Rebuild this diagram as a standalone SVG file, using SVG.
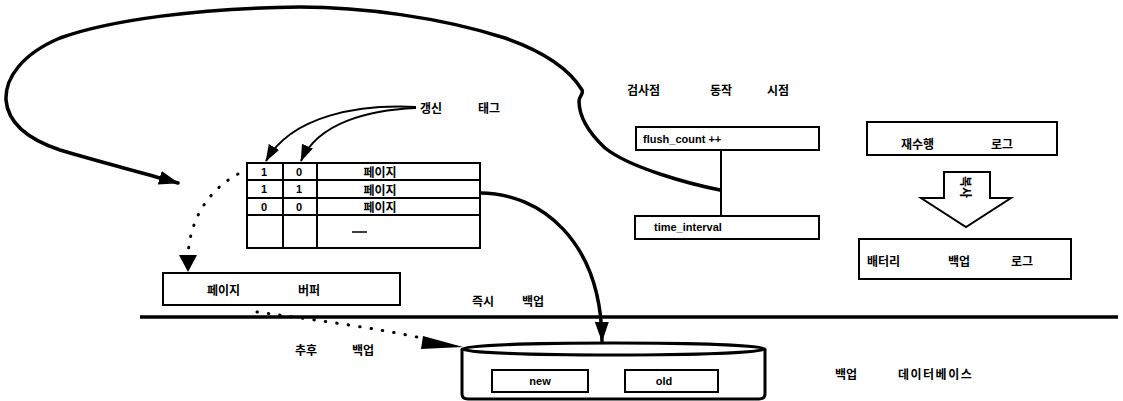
<svg xmlns="http://www.w3.org/2000/svg" width="1123" height="401" viewBox="0 0 1123 401">
<style>
.k{font-family:"Noto Sans CJK KR","Liberation Sans",sans-serif;font-weight:bold;font-size:12px;fill:#000;dominant-baseline:central}
.l{font-family:"Liberation Sans",Arial,sans-serif;font-weight:bold;font-size:11px;fill:#000;dominant-baseline:central}
.box{fill:#fff;stroke:#000;stroke-width:2}
.ln{fill:none;stroke:#000;stroke-width:2}
.thick{fill:none;stroke:#000;stroke-width:3.5;stroke-linecap:round}
.dot{fill:none;stroke:#000;stroke-width:3;stroke-linecap:round;stroke-dasharray:0.5 11}
</style>
<defs>
<marker id="ah" viewBox="0 0 20 14" refX="19" refY="7" markerWidth="20" markerHeight="14" orient="auto" markerUnits="userSpaceOnUse"><path d="M0,0 L20,7 L0,14 Z" fill="#000"/></marker>
<marker id="ahs" viewBox="0 0 20 14" refX="19" refY="7" markerWidth="17" markerHeight="13" orient="auto" markerUnits="userSpaceOnUse"><path d="M0,0 L20,7 L0,14 Z" fill="#000"/></marker>
</defs>
<rect width="1123" height="401" fill="#fff"/>

<g id="baseline">
<line x1="140" y1="317" x2="1118" y2="317" stroke="#000" stroke-width="3.5"/>
</g>

<g id="connectors">
<path class="thick" d="M720,190 C690,184 630,168 605,148 C588,132 579,115 579,101 C579,96 584,94 582,90 C570,70 545,52 505,38 C440,17 360,7 300,7 C200,8 110,20 60,38 C22,54 5,78 6,100 C8,124 30,140 60,150 C100,162 140,172 178,183" marker-end="url(#ah)"/>
<path class="ln" stroke-width="2.5" d="M416,107 C360,104 292,115 266,161" marker-end="url(#ahs)"/>
<path class="ln" stroke-width="2.5" d="M416,108 C370,110 318,122 301,161" marker-end="url(#ahs)"/>
<path class="thick" d="M480,193 C540,193 601,240 602,341" marker-end="url(#ah)"/>
<path class="dot" d="M238,174 C212,188 190,215 188,256"/>
<path d="M179,255 L197,255 L188,272 Z" fill="#000"/>
<path class="dot" d="M257,312 C300,318 380,328 430,340"/>
<path d="M423,336 L463,347 L421,349 Z" fill="#000"/>
<line x1="721" y1="150" x2="721" y2="216" stroke="#000" stroke-width="2"/>
</g>

<g id="tag-label">
<text class="k" x="420" y="107" font-size="13">갱신</text>
<text class="k" x="478" y="107" font-size="13">태그</text>
</g>

<g id="page-table">
<rect class="box" x="247" y="163" width="233" height="85"/>
<line class="ln" x1="247" y1="180" x2="480" y2="180"/>
<line class="ln" x1="247" y1="198" x2="480" y2="198"/>
<line class="ln" x1="247" y1="215" x2="480" y2="215"/>
<line class="ln" x1="283" y1="163" x2="283" y2="248"/>
<line class="ln" x1="317" y1="163" x2="317" y2="248"/>
<text class="l" x="264" y="172" text-anchor="middle">1</text>
<text class="l" x="299" y="172" text-anchor="middle">0</text>
<text class="k" x="380" y="171" text-anchor="middle">페이지</text>
<text class="l" x="264" y="189" text-anchor="middle">1</text>
<text class="l" x="299" y="189" text-anchor="middle">1</text>
<text class="k" x="380" y="189" text-anchor="middle">페이지</text>
<text class="l" x="264" y="207" text-anchor="middle">0</text>
<text class="l" x="299" y="207" text-anchor="middle">0</text>
<text class="k" x="380" y="206" text-anchor="middle">페이지</text>
<line x1="352" y1="232" x2="367" y2="232" stroke="#000" stroke-width="1.5"/>
</g>

<g id="page-buffer">
<rect class="box" x="163" y="273" width="237" height="32"/>
<text class="k" x="207" y="289" font-size="13">페이지</text>
<text class="k" x="298" y="289" font-size="13">버퍼</text>
</g>

<g id="checkpoint-label">
<text class="k" x="627" y="89">검사점</text>
<text class="k" x="710" y="89">동작</text>
<text class="k" x="767" y="89">시점</text>
</g>

<g id="flush-count">
<rect class="box" x="636" y="127" width="183" height="23"/>
<text class="l" x="643" y="139">flush_count ++</text>
</g>

<g id="time-interval">
<rect class="box" x="635" y="216" width="184" height="23"/>
<text class="l" x="654" y="227">time_interval</text>
</g>

<g id="redo-log">
<rect class="box" x="867" y="122" width="190" height="33"/>
<text class="k" x="901" y="143">재수행</text>
<text class="k" x="991" y="143">로그</text>
</g>

<g id="copy-arrow">
<path d="M944,172 L990,172 L990,198 L1011,198 L966,227 L921,198 L944,198 Z" fill="#fff" stroke="#000" stroke-width="2"/>
<text class="k" x="966" y="187" font-size="11" text-anchor="middle" transform="rotate(90 966 187)">복사</text>
</g>

<g id="battery-log">
<rect class="box" x="859" y="239" width="212" height="40"/>
<text class="k" x="867" y="260">배터리</text>
<text class="k" x="948" y="260">백업</text>
<text class="k" x="1011" y="260">로그</text>
</g>

<g id="immediate-label">
<text class="k" x="472" y="300" font-size="13">즉시</text>
<text class="k" x="522" y="300" font-size="13">백업</text>
</g>

<g id="deferred-label">
<text class="k" x="295" y="349" font-size="13">추후</text>
<text class="k" x="352" y="349" font-size="13">백업</text>
</g>

<g id="backup-db">
<path d="M462,349 L462,394 Q462,399 468,399 L759,399 Q765,399 765,394 L765,349" fill="#fff" stroke="#000" stroke-width="3"/>
<ellipse cx="613.5" cy="349" rx="151.5" ry="6" fill="#fff" stroke="#000" stroke-width="3"/>
<rect class="box" x="492" y="370" width="96" height="22"/>
<text class="l" x="540" y="381" text-anchor="middle">new</text>
<rect class="box" x="625" y="370" width="93" height="22"/>
<text class="l" x="664" y="381" text-anchor="middle">old</text>
</g>

<g id="db-label">
<text class="k" x="835" y="373" font-size="15">백업</text>
<text class="k" x="898" y="373" font-size="15" letter-spacing="1.5">데이터베이스</text>
</g>
</svg>
